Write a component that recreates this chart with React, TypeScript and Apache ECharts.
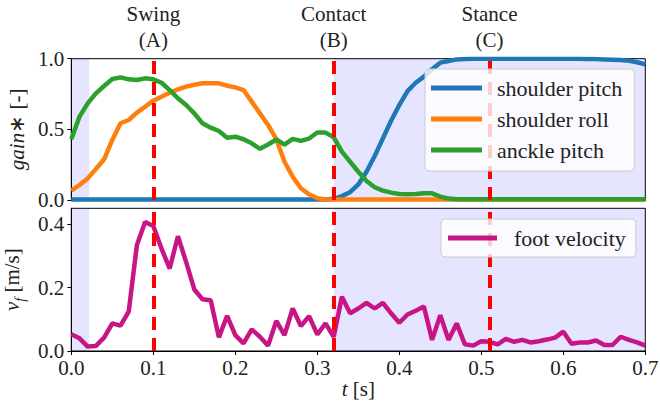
import React, { useEffect, useRef } from "react";
import * as echarts from "echarts";

const times = [
  0.0, 0.01, 0.02, 0.03, 0.04, 0.05, 0.06, 0.07, 0.08, 0.09,
  0.1, 0.11, 0.12, 0.13, 0.14, 0.15, 0.16, 0.17, 0.18, 0.19,
  0.2, 0.21, 0.22, 0.23, 0.24, 0.25, 0.26, 0.27, 0.28, 0.29,
  0.3, 0.31, 0.32, 0.33, 0.34, 0.35, 0.36, 0.37, 0.38, 0.39,
  0.4, 0.41, 0.42, 0.43, 0.44, 0.45, 0.46, 0.47, 0.48, 0.49,
  0.5, 0.51, 0.52, 0.53, 0.54, 0.55, 0.56, 0.57, 0.58, 0.59,
  0.6, 0.61, 0.62, 0.63, 0.64, 0.65, 0.66, 0.67, 0.68, 0.69,
  0.7,
];

const shoulderPitch = [
  0.003, 0.003, 0.003, 0.003, 0.003, 0.003, 0.003, 0.003, 0.003, 0.003,
  0.003, 0.003, 0.003, 0.003, 0.003, 0.003, 0.003, 0.003, 0.003, 0.003,
  0.003, 0.003, 0.003, 0.003, 0.003, 0.003, 0.003, 0.003, 0.003, 0.003,
  0.003, 0.004, 0.008, 0.028, 0.055, 0.11, 0.2, 0.311, 0.436, 0.561,
  0.672, 0.771, 0.83, 0.873, 0.925, 0.972, 0.984, 0.995, 0.998, 0.999,
  0.999, 0.999, 0.999, 0.999, 0.999, 0.999, 0.999, 0.999, 0.999, 0.999,
  0.999, 0.999, 0.999, 0.998, 0.997, 0.995, 0.993, 0.99, 0.985, 0.975,
  0.96,
];

const shoulderRoll = [
  0.066, 0.106, 0.153, 0.219, 0.288, 0.425, 0.543, 0.566, 0.618, 0.66,
  0.703, 0.731, 0.759, 0.783, 0.802, 0.816, 0.826, 0.826, 0.826, 0.809,
  0.797, 0.778, 0.696, 0.613, 0.531, 0.43, 0.271, 0.165, 0.083, 0.04,
  0.012, 0.004, 0.003, 0.003, 0.003, 0.003, 0.003, 0.003, 0.003, 0.003,
  0.003, 0.003, 0.003, 0.003, 0.003, 0.003, 0.003, 0.003, 0.003, 0.003,
  0.003, 0.003, 0.003, 0.003, 0.003, 0.003, 0.003, 0.003, 0.003, 0.003,
  0.003, 0.003, 0.003, 0.003, 0.003, 0.003, 0.003, 0.003, 0.003, 0.003,
  0.003,
];

const anklePitch = [
  0.43, 0.59, 0.684, 0.755, 0.807, 0.856, 0.868, 0.854, 0.849, 0.861,
  0.854, 0.83, 0.778, 0.72, 0.672, 0.613, 0.543, 0.512, 0.488, 0.441,
  0.448, 0.43, 0.401, 0.362, 0.393, 0.428, 0.392, 0.433, 0.418, 0.435,
  0.478, 0.477, 0.444, 0.342, 0.271, 0.2, 0.134, 0.09, 0.066, 0.052,
  0.042, 0.04, 0.042, 0.047, 0.047, 0.024, 0.01, 0.006, 0.005, 0.005,
  0.005, 0.005, 0.005, 0.005, 0.005, 0.005, 0.005, 0.005, 0.005, 0.005,
  0.005, 0.005, 0.005, 0.005, 0.005, 0.005, 0.005, 0.005, 0.005, 0.005,
  0.005,
];

const footVelocity = [
  0.053, 0.04, 0.014, 0.016, 0.042, 0.087, 0.08, 0.124, 0.334, 0.407,
  0.394, 0.323, 0.26, 0.362, 0.281, 0.194, 0.163, 0.16, 0.043, 0.111,
  0.05, 0.024, 0.068, 0.045, 0.017, 0.095, 0.05, 0.134, 0.079, 0.11,
  0.052, 0.087, 0.045, 0.171, 0.119, 0.134, 0.152, 0.134, 0.152, 0.119,
  0.089, 0.115, 0.127, 0.14, 0.035, 0.113, 0.035, 0.087, 0.021, 0.017,
  0.031, 0.029, 0.021, 0.038, 0.029, 0.035, 0.027, 0.031, 0.036, 0.042,
  0.061, 0.023, 0.027, 0.027, 0.033, 0.019, 0.019, 0.045, 0.035, 0.027,
  0.017,
];

const phaseTimes = [0.1, 0.32, 0.51];
const phaseLabels = ["Swing\n(A)", "Contact\n(B)", "Stance\n(C)"];
const shadedSpans = [
  [0.0, 0.022],
  [0.32, 0.7],
];

const FONT = "'Liberation Serif', serif";
const FS = 21;
const LFS = 22;
const TXT = "#222";

function pairs(vals: number[]) {
  return times.map((t, i) => [t, vals[i]]);
}

export default function App() {
  const ref = useRef<HTMLDivElement>(null);
  useEffect(() => {
    if (!ref.current) return;
    const chart = echarts.init(ref.current, undefined, { renderer: "svg" });
    const markAreaCfg = {
      silent: true,
      itemStyle: { color: "rgba(0,0,255,0.1)" },
      data: shadedSpans.map((s) => [{ xAxis: s[0] }, { xAxis: s[1] }]),
    };
    const markLineCfg = (withLabels: boolean) => ({
      silent: true,
      symbol: "none",
      z: 5,
      lineStyle: { color: "#ff0000", width: 4, type: [13, 8], opacity: 1 },
      label: withLabels
        ? {
            show: true,
            position: "end",
            distance: 6,
            formatter: (p: any) => phaseLabels[p.dataIndex],
            fontFamily: FONT,
            fontSize: FS,
            lineHeight: 26,
            color: TXT,
          }
        : { show: false },
      data: phaseTimes.map((t) => ({ xAxis: t })),
    });
    const axisNameStyle = {
      fontFamily: FONT,
      fontSize: FS,
      color: TXT,
      rich: {
        i: { fontFamily: FONT, fontSize: FS, fontStyle: "italic", color: TXT },
        s: { fontFamily: FONT, fontSize: 14, fontStyle: "italic", color: TXT, padding: [16, 0, 0, 0] },
      },
    };
    const lineStyleBase = { width: 4.5 };
    const tickLabel = {
      fontFamily: FONT,
      fontSize: FS,
      color: TXT,
      formatter: (v: number) => v.toFixed(1),
    };
    const gridBase = {
      left: 71.3,
      right: 14.7,
      show: true,
      borderColor: "#000",
      borderWidth: 1,
      backgroundColor: "transparent",
      containLabel: false,
      outerBoundsMode: "none",
    };
    chart.setOption({
      animation: false,
      grid: [
        { ...gridBase, top: 58.7, height: 141.3 },
        { ...gridBase, top: 208.3, height: 142.7 },
      ],
      legend: [
        {
          data: ["shoulder pitch", "shoulder roll", "anckle pitch"],
          orient: "vertical",
          left: 425,
          top: 69,
          z: 10,
          icon: "rect",
          itemWidth: 51,
          itemHeight: 5,
          itemGap: 7,
          padding: [7, 12, 9, 6],
          backgroundColor: "rgba(255,255,255,0.8)",
          borderColor: "#cccccc",
          borderWidth: 1,
          borderRadius: 4,
          textStyle: { fontFamily: FONT, fontSize: LFS, lineHeight: 24, color: TXT, padding: [0, 0, 0, 10] },
        },
        {
          data: ["foot velocity"],
          orient: "vertical",
          left: 441,
          top: 219,
          z: 10,
          icon: "rect",
          itemWidth: 49,
          itemHeight: 5,
          padding: [7, 10, 7, 7],
          backgroundColor: "rgba(255,255,255,0.8)",
          borderColor: "#cccccc",
          borderWidth: 1,
          borderRadius: 4,
          textStyle: { fontFamily: FONT, fontSize: LFS, lineHeight: 24, color: TXT, padding: [0, 0, 0, 12] },
        },
      ],
      xAxis: [
        {
          type: "value",
          gridIndex: 0,
          min: 0,
          max: 0.7,
          interval: 0.1,
          axisLine: { show: true, lineStyle: { color: "#000" } },
          axisTick: { show: false },
          axisLabel: { show: false },
          splitLine: { show: false },
        },
        {
          type: "value",
          gridIndex: 1,
          min: 0,
          max: 0.7,
          interval: 0.1,
          name: "{i|t} [s]",
          nameLocation: "middle",
          nameGap: 19,
          nameTextStyle: axisNameStyle,
          axisLine: { show: true, onZero: false, lineStyle: { color: "#000" } },
          axisTick: { show: true, length: 4, lineStyle: { color: "#000" } },
          axisLabel: { ...tickLabel, margin: 6 },
          splitLine: { show: false },
        },
      ],
      yAxis: [
        {
          type: "value",
          gridIndex: 0,
          min: 0,
          max: 1,
          interval: 0.5,
          name: "{i|gain}∗ [-]",
          nameLocation: "middle",
          nameRotate: 90,
          nameGap: 40,
          nameTextStyle: axisNameStyle,
          axisLine: { show: true, lineStyle: { color: "#000" } },
          axisTick: { show: true, length: 4, lineStyle: { color: "#000" } },
          axisLabel: { ...tickLabel, margin: 7 },
          splitLine: { show: false },
        },
        {
          type: "value",
          gridIndex: 1,
          min: 0,
          max: 0.45,
          interval: 0.2,
          name: "{i|v}{s|f} [m/s]",
          nameLocation: "middle",
          nameRotate: 90,
          nameGap: 40,
          nameTextStyle: axisNameStyle,
          axisLine: { show: true, lineStyle: { color: "#000" } },
          axisTick: { show: true, length: 4, lineStyle: { color: "#000" } },
          axisLabel: { ...tickLabel, margin: 7, showMaxLabel: false },
          splitLine: { show: false },
        },
      ],
      series: [
        {
          name: "shade-top",
          type: "line",
          xAxisIndex: 0,
          yAxisIndex: 0,
          data: [],
          z: 1,
          markArea: markAreaCfg,
        },
        {
          name: "shoulder pitch",
          type: "line",
          xAxisIndex: 0,
          yAxisIndex: 0,
          data: pairs(shoulderPitch),
          showSymbol: false,
          color: "#1f77b4",
          lineStyle: { ...lineStyleBase, color: "#1f77b4" },
          z: 3,
        },
        {
          name: "shoulder roll",
          type: "line",
          xAxisIndex: 0,
          yAxisIndex: 0,
          data: pairs(shoulderRoll),
          showSymbol: false,
          color: "#ff7f0e",
          lineStyle: { ...lineStyleBase, color: "#ff7f0e" },
          z: 3,
        },
        {
          name: "anckle pitch",
          type: "line",
          xAxisIndex: 0,
          yAxisIndex: 0,
          data: pairs(anklePitch),
          showSymbol: false,
          color: "#2ca02c",
          lineStyle: { ...lineStyleBase, color: "#2ca02c" },
          z: 3,
        },
        {
          name: "lines-top",
          type: "line",
          xAxisIndex: 0,
          yAxisIndex: 0,
          data: [],
          z: 5,
          markLine: markLineCfg(true),
        },
        {
          name: "shade-bottom",
          type: "line",
          xAxisIndex: 1,
          yAxisIndex: 1,
          data: [],
          z: 1,
          markArea: markAreaCfg,
        },
        {
          name: "foot velocity",
          type: "line",
          xAxisIndex: 1,
          yAxisIndex: 1,
          data: pairs(footVelocity),
          showSymbol: false,
          color: "#c71585",
          lineStyle: { ...lineStyleBase, color: "#c71585" },
          z: 3,
        },
        {
          name: "lines-bottom",
          type: "line",
          xAxisIndex: 1,
          yAxisIndex: 1,
          data: [],
          z: 5,
          markLine: markLineCfg(false),
        },
      ],
    });
    return () => chart.dispose();
  }, []);
  return (
    <div
      ref={ref}
      style={{ position: "fixed", left: 0, top: 0, width: 660, height: 409, background: "#fff" }}
    />
  );
}
